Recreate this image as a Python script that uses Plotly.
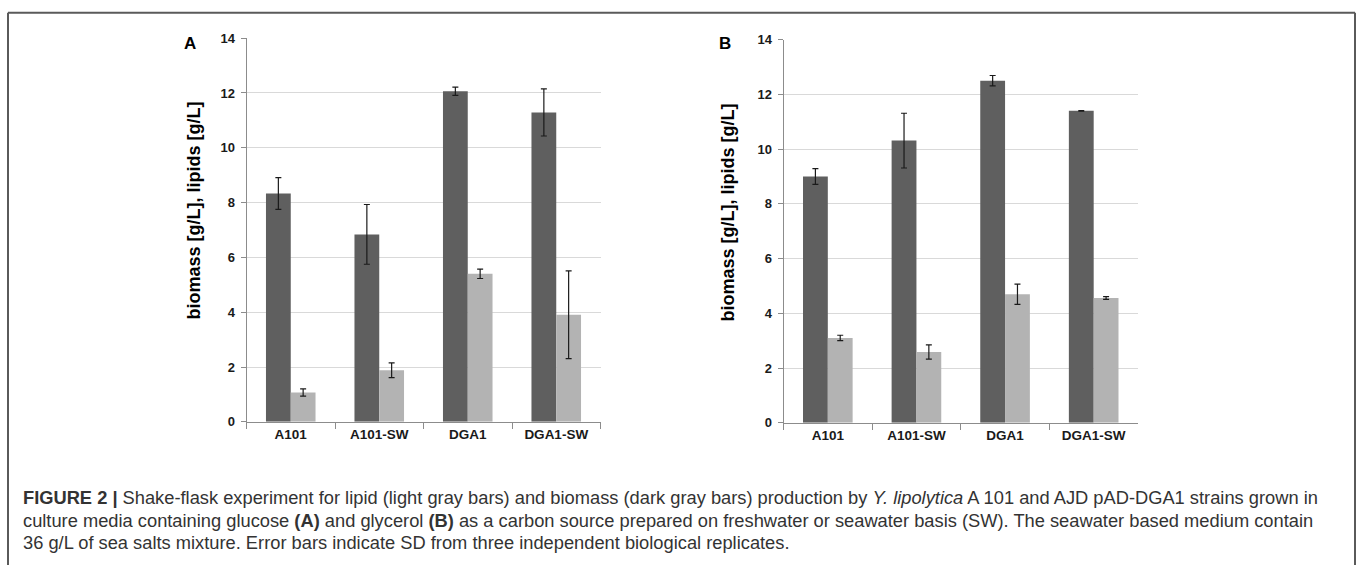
import plotly.graph_objects as go

W, H = 1357, 573

categories = ["A101", "A101-SW", "DGA1", "DGA1-SW"]

# Panel A (glucose)
biomass_A = [8.33, 6.84, 12.06, 11.29]
biomass_A_sd = [0.58, 1.09, 0.15, 0.86]
lipids_A = [1.07, 1.88, 5.40, 3.91]
lipids_A_sd = [0.13, 0.27, 0.17, 1.60]

# Panel B (glycerol)
biomass_B = [9.00, 10.31, 12.50, 11.40]
biomass_B_sd = [0.29, 1.00, 0.19, 0.01]
lipids_B = [3.10, 2.59, 4.70, 4.56]
lipids_B_sd = [0.10, 0.26, 0.37, 0.05]

y_ticks = [0, 2, 4, 6, 8, 10, 12, 14]
y_title = "biomass [g/L], lipids [g/L]"
panel_labels = ["A", "B"]

caption_lines = [
    "<b>FIGURE 2 |</b> Shake-flask experiment for lipid (light gray bars) and biomass (dark gray bars) production by <i>Y. lipolytica</i> A 101 and AJD pAD-DGA1 strains grown in",
    "culture media containing glucose <b>(A)</b> and glycerol <b>(B)</b> as a carbon source prepared on freshwater or seawater basis (SW). The seawater based medium contain",
    "36 g/L of sea salts mixture. Error bars indicate SD from three independent biological replicates.",
]

DARK = "#5f5f5f"
LIGHT = "#b3b3b3"
FONT = "Liberation Sans"


def px(x):
    return x / W


def py(y):
    return 1 - y / H


fig = go.Figure()

panels = [
    (biomass_A, biomass_A_sd, lipids_A, lipids_A_sd, "x", "y"),
    (biomass_B, biomass_B_sd, lipids_B, lipids_B_sd, "x2", "y2"),
]
for bm, bm_sd, lp, lp_sd, xa, ya in panels:
    fig.add_trace(go.Bar(
        x=categories, y=bm, name="biomass", marker=dict(color=DARK, line=dict(width=0)),
        error_y=dict(type="data", array=bm_sd, visible=True, color="#1a1a1a", thickness=1.2, width=3),
        xaxis=xa, yaxis=ya, showlegend=False, hoverinfo="skip",
    ))
    fig.add_trace(go.Bar(
        x=categories, y=lp, name="lipids", marker=dict(color=LIGHT, line=dict(width=0)),
        error_y=dict(type="data", array=lp_sd, visible=True, color="#1a1a1a", thickness=1.2, width=3),
        xaxis=xa, yaxis=ya, showlegend=False, hoverinfo="skip",
    ))

xdom = [[px(246.5), px(600.5)], [px(783.5), px(1138.0)]]
ydom = [[py(426.0), py(32.0)], [py(427.0), py(33.5)]]

axis_common_x = dict(
    type="category", showline=True, linecolor="#8c8c8c", linewidth=1,
    ticks="outside", tickson="boundaries", ticklen=6, tickcolor="#8c8c8c",
    showgrid=False, zeroline=False,
    tickfont=dict(family=FONT, size=13.5, color="#1a1a1a", weight="bold"),
)
axis_common_y = dict(
    range=[0, 14], tickvals=y_ticks, showline=True, linecolor="#8c8c8c", linewidth=1,
    ticks="outside", ticklen=5, tickcolor="#8c8c8c", ticklabelstandoff=3,
    showgrid=True, gridcolor="#d9d9d9", gridwidth=1, zeroline=False,
    tickfont=dict(family=FONT, size=13, color="#1a1a1a", weight="bold"),
)

fig.update_layout(
    width=W, height=H, margin=dict(l=0, r=0, t=0, b=0),
    paper_bgcolor="white", plot_bgcolor="white",
    barmode="group", bargap=0.44, bargroupgap=0,
    xaxis=dict(domain=xdom[0], anchor="y", **axis_common_x),
    yaxis=dict(domain=ydom[0], anchor="x", **axis_common_y),
    xaxis2=dict(domain=xdom[1], anchor="y2", **axis_common_x),
    yaxis2=dict(domain=ydom[1], anchor="x2", **axis_common_y),
)

annotations = []
# panel letters and y titles
for lab, lx, tx, ty in [(panel_labels[0], 190, 194, 209), (panel_labels[1], 725, 728, 211)]:
    annotations.append(dict(
        text=f"<b>{lab}</b>", x=px(lx), y=py(37), xref="paper", yref="paper",
        xanchor="center", yanchor="middle", showarrow=False,
        font=dict(family=FONT, size=17, color="#000000"),
    ))
    annotations.append(dict(
        text=f"<b>{y_title}</b>", x=px(tx), y=py(ty), xref="paper", yref="paper",
        xanchor="center", yanchor="middle", showarrow=False, textangle=-90,
        font=dict(family=FONT, size=18, color="#000000"),
    ))

for i, line in enumerate(caption_lines):
    annotations.append(dict(
        text=line, x=px(21), y=py(504 + 23 * i), xref="paper", yref="paper",
        xanchor="left", yanchor="middle", showarrow=False, align="left",
        font=dict(family=FONT, size=18.3, color="#333333"),
    ))
fig.update_layout(annotations=annotations)

# frame lines
frame = dict(color="#5a5a5a", width=2)
fig.update_layout(shapes=[
    dict(type="line", xref="paper", yref="paper", x0=px(8), x1=px(1355), y0=py(6), y1=py(6), line=frame),
    dict(type="line", xref="paper", yref="paper", x0=px(8), x1=px(8), y0=py(6), y1=0, line=frame),
    dict(type="line", xref="paper", yref="paper", x0=px(1355), x1=px(1355), y0=py(6), y1=0, line=frame),
])

# Remove the default 8px page margin so the figure fills the window exactly.
fig.write_html(
    "out.html",
    config={"displayModeBar": False},
    post_script="document.body.style.margin='0';document.body.style.overflow='hidden';",
)
